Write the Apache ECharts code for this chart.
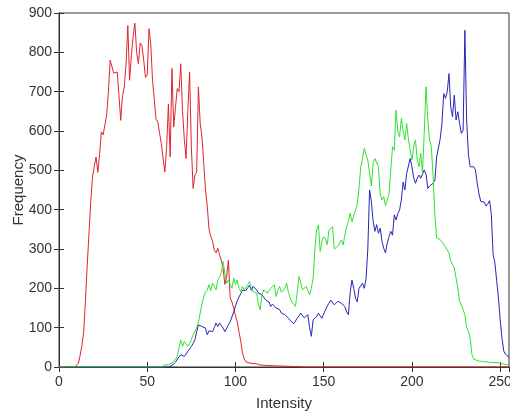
<!DOCTYPE html>
<html>
<head>
<meta charset="utf-8">
<script src="https://cdn.jsdelivr.net/npm/echarts@6/dist/echarts.min.js"></script>
<style>
  html, body { margin: 0; padding: 0; background: #ffffff; }
  #chart { width: 510px; height: 417px; }
</style>
</head>
<body>
<div id="chart"></div>
<script>
// Per-channel intensity histograms: [intensity, pixel count]
const redCounts = [
  [0,0],[9,0],[10,3],[11,10],[12,30],[13,55],[14,90],[15,170],[16,260],[17,340],[18,420],[19,484],
  [20,510],[21,534],[22,495],[23,540],[24,598],[25,590],[26,594],[27,640],[28,700],[29,780],
  [30,777],[31,747],[32,752],[33,750],[34,746],[35,627],[36,690],[37,712],[38,770],[39,868],
  [40,729],[41,792],[42,840],[43,874],[44,800],[45,771],[46,824],[47,818],[48,780],[49,736],
  [50,742],[51,860],[52,822],[53,729],[54,680],[55,630],[56,623],[57,594],[58,568],[59,530],
  [60,496],[61,560],[62,668],[63,534],[64,759],[65,610],[66,660],[67,708],[68,700],[69,771],
  [70,650],[71,580],[72,530],[73,650],[74,750],[75,560],[76,454],[77,488],[78,495],[79,712],
  [80,620],[81,585],[82,520],[83,450],[84,410],[85,350],[86,332],[87,320],[88,298],[89,290],
  [90,302],[91,285],[92,270],[93,250],[94,210],[95,230],[96,272],[97,176],[98,165],[99,150],
  [100,130],[101,115],[102,90],[103,65],[104,35],[105,20],[106,13],[107,11],[108,10],
  [110,9],[112,8],[114,5],[118,4],[122,3],[128,2],[135,1],[140,0],[255,0]
];

const greenCounts = [
  [0,0],[58,0],[59,3],[60,5],[62,6],[64,10],[65,12],[66,20],[67,27],[68,50],[69,69],
  [70,52],[71,65],[72,60],[73,52],[74,60],[75,69],[76,82],[77,90],[78,99],[79,115],
  [80,137],[81,160],[82,179],[83,190],[84,196],[85,209],[86,194],[87,213],[88,205],[89,196],
  [90,221],[91,230],[92,240],[93,268],[94,238],[95,213],[96,221],[97,210],[98,200],[99,226],
  [100,210],[101,221],[102,200],[103,192],[104,205],[105,196],[106,200],[107,210],[108,217],[109,200],
  [110,192],[111,195],[112,188],[113,160],[114,145],[115,184],[116,196],[117,200],[118,188],[119,193],
  [120,200],[121,196],[122,209],[123,179],[124,195],[125,205],[126,190],[127,188],[128,200],[129,213],
  [130,190],[131,175],[132,165],[133,160],[134,154],[135,190],[136,230],[137,215],[138,196],[139,200],
  [140,205],[141,195],[142,183],[143,200],[144,226],[145,300],[146,348],[147,361],[148,294],[149,320],
  [150,331],[151,325],[152,311],[153,348],[154,350],[155,357],[156,300],[157,302],[158,307],[159,315],
  [160,323],[161,310],[162,336],[163,357],[164,370],[165,391],[166,369],[167,385],[168,399],[169,413],
  [170,455],[171,509],[172,530],[173,556],[174,540],[175,526],[176,492],[177,460],[178,518],[179,530],
  [180,534],[181,509],[182,441],[183,425],[184,433],[185,410],[186,408],[187,440],[188,500],[189,560],
  [190,551],[191,653],[192,600],[193,585],[194,632],[195,600],[196,577],[197,619],[198,580],[199,551],
  [200,526],[201,560],[202,577],[203,526],[204,509],[205,543],[206,492],[207,600],[208,712],[209,628],
  [210,577],[211,560],[212,484],[213,387],[214,328],[215,326],[216,324],[217,318],[218,311],[219,305],
  [220,303],[221,290],[222,270],[223,260],[224,252],[225,248],[226,201],[227,167],[228,158],[229,155],
  [230,133],[231,100],[232,91],[233,74],[234,32],[235,20],[236,17],[238,15],[240,14],[244,12],
  [250,10],[253,6],[255,5]
];

const blueCounts = [
  [0,0],[62,0],[64,4],[65,6],[66,12],[67,20],[68,23],[69,31],
  [70,29],[71,27],[72,33],[73,40],[74,45],[75,52],[76,60],[77,69],[78,90],[79,107],
  [80,105],[81,103],[82,100],[83,99],[84,82],[85,92],[86,95],[87,90],[88,100],[89,112],
  [90,103],[91,112],[92,105],[93,99],[94,90],[95,87],[96,107],[97,115],[98,120],[99,140],
  [100,155],[101,168],[102,178],[103,183],[104,195],[105,192],[106,195],[107,200],[108,208],[109,195],
  [110,205],[111,209],[112,196],[113,188],[114,192],[115,184],[116,188],[117,171],[118,175],[119,165],
  [120,154],[121,160],[122,158],[123,150],[124,145],[125,146],[126,137],[127,138],[128,133],[129,128],
  [130,124],[131,118],[132,116],[133,110],[134,107],[135,124],[136,130],[137,137],[138,133],[139,125],
  [140,120],[141,133],[142,100],[143,78],[144,120],[145,125],[146,128],[147,137],[148,130],[149,124],
  [150,135],[151,145],[152,155],[153,162],[154,170],[155,175],[156,158],[157,162],[158,167],[159,165],
  [160,162],[161,158],[162,154],[163,140],[164,133],[165,190],[166,221],[167,200],[168,175],[169,166],
  [170,200],[171,205],[172,213],[173,200],[174,225],[175,300],[176,450],[177,421],[178,370],[179,345],
  [180,362],[181,340],[182,353],[183,320],[184,302],[185,290],[186,315],[187,331],[188,345],[189,335],
  [190,387],[191,374],[192,390],[193,399],[194,425],[195,470],[196,450],[197,492],[198,496],[199,530],
  [200,509],[201,480],[202,467],[203,480],[204,488],[205,480],[206,475],[207,501],[208,490],[209,454],
  [210,460],[211,465],[212,467],[213,475],[214,534],[215,538],[216,580],[217,619],[218,695],[219,683],
  [220,700],[221,746],[222,661],[223,636],[224,691],[225,628],[226,649],[227,619],[228,594],[229,602],
  [230,856],[231,628],[232,540],[233,509],[234,505],[235,509],[236,501],[237,467],[238,440],[239,421],
  [240,417],[241,419],[242,409],[243,415],[244,423],[245,387],[246,286],[247,265],[248,220],[249,176],
  [250,120],[251,74],[252,41],[253,32],[254,28],[255,25]
];

const xTitle = 'Intensity';
const yTitle = 'Frequency';

const axisColor = '#333333';
const font = "'Liberation Sans', Arial, sans-serif";

const chart = echarts.init(document.getElementById('chart'), null, { renderer: 'canvas' });

function lineSeries(name, data, color) {
  return {
    name: name,
    type: 'line',
    data: data,
    showSymbol: false,
    symbol: 'none',
    lineStyle: { color: color, width: 1 },
    itemStyle: { color: color },
    xAxisIndex: 0,
    yAxisIndex: 0
  };
}

const tickStyle = { show: true, inside: true, length: 5, lineStyle: { color: axisColor, width: 1 } };

chart.setOption({
  animation: false,
  backgroundColor: '#ffffff',
  grid: {
    left: 59, right: 1, top: 13, bottom: 50,
    containLabel: false, outerBoundsMode: 'none',
    show: true, borderColor: axisColor, borderWidth: 1, backgroundColor: 'transparent'
  },
  xAxis: [
    {
      type: 'value', min: 0, max: 255, interval: 50, position: 'bottom',
      name: xTitle, nameLocation: 'middle', nameGap: 29, nameMoveOverlap: false,
      nameTextStyle: { color: axisColor, fontSize: 15, fontFamily: font },
      axisLine: { show: true, lineStyle: { color: axisColor, width: 1 } },
      axisTick: tickStyle,
      axisLabel: { color: axisColor, fontSize: 14, fontFamily: font, margin: 8 },
      splitLine: { show: false }
    },
    {
      type: 'value', min: 0, max: 255, interval: 50, position: 'top',
      axisLine: { show: true, lineStyle: { color: axisColor, width: 1 } },
      axisTick: tickStyle,
      axisLabel: { show: false },
      splitLine: { show: false }
    }
  ],
  yAxis: [
    {
      type: 'value', min: 0, max: 900, interval: 100, position: 'left',
      name: yTitle, nameLocation: 'middle', nameGap: 33, nameMoveOverlap: false,
      nameTextStyle: { color: axisColor, fontSize: 15, fontFamily: font },
      axisLine: { show: true, lineStyle: { color: axisColor, width: 1 } },
      axisTick: tickStyle,
      axisLabel: { color: axisColor, fontSize: 14, fontFamily: font, margin: 7 },
      splitLine: { show: false }
    },
    {
      type: 'value', min: 0, max: 900, interval: 100, position: 'right',
      axisLine: { show: true, lineStyle: { color: axisColor, width: 1 } },
      axisTick: tickStyle,
      axisLabel: { show: false },
      splitLine: { show: false }
    }
  ],
  series: [
    lineSeries('R', redCounts, '#e0242a'),
    lineSeries('B', blueCounts, '#2626b8'),
    lineSeries('G', greenCounts, '#33e033')
  ]
});
</script>
</body>
</html>
